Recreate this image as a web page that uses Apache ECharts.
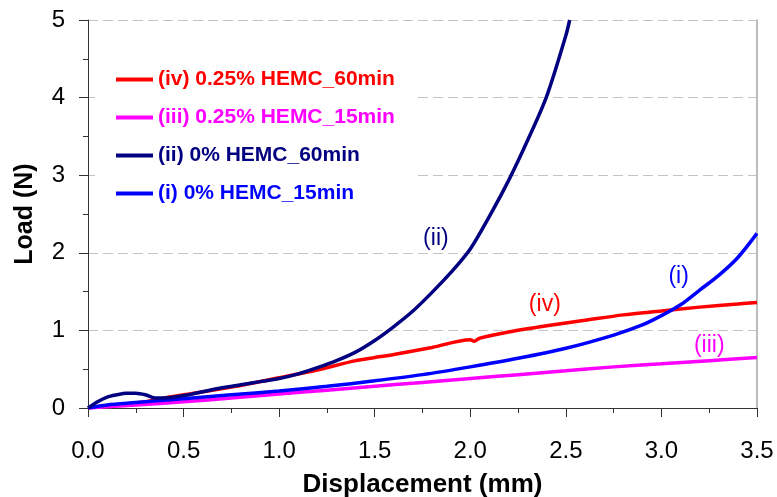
<!DOCTYPE html>
<html>
<head>
<meta charset="utf-8">
<script src="https://cdn.jsdelivr.net/npm/echarts@6/dist/echarts.min.js"></script>
<style>html,body{margin:0;padding:0;background:#fff}#c{width:777px;height:497px}</style>
</head>
<body>
<div id="c"></div>
<script>
// Series names (legend order)
const names = ['(iv) 0.25% HEMC_60min', '(iii) 0.25% HEMC_15min', '(ii) 0% HEMC_60min', '(i) 0% HEMC_15min'];
const colors = ['#ff0000', '#ff00ff', '#000080', '#0000ff'];
const labels = ['(iv)', '(iii)', '(ii)', '(i)'];
const labelPos = [[2.39, 1.33], [3.25, 0.80], [1.82, 2.18], [3.09, 1.69]];

// (iv) 0.25% HEMC_60min
const disp_iv = [0, 0.1, 0.2, 0.3, 0.4, 0.5, 0.75, 1.0, 1.2, 1.4, 1.5, 1.6, 1.8, 2.0, 2.02, 2.05, 2.2, 2.4, 2.6, 2.8, 3.0, 3.2, 3.4, 3.5];
const load_iv = [0, 0.03, 0.05, 0.08, 0.13, 0.17, 0.27, 0.39, 0.49, 0.61, 0.65, 0.69, 0.78, 0.88, 0.86, 0.90, 0.98, 1.06, 1.13, 1.20, 1.25, 1.30, 1.34, 1.36];
// (iii) 0.25% HEMC_15min
const disp_iii = [0, 0.25, 0.5, 0.75, 1.0, 1.25, 1.5, 1.75, 2.0, 2.25, 2.5, 2.75, 3.0, 3.25, 3.5];
const load_iii = [0, 0.04, 0.08, 0.13, 0.18, 0.23, 0.28, 0.33, 0.38, 0.43, 0.48, 0.53, 0.57, 0.61, 0.65];
// (ii) 0% HEMC_60min
const disp_ii = [0, 0.05, 0.1, 0.15, 0.2, 0.25, 0.3, 0.35, 0.4, 0.5, 0.6, 0.7, 0.8, 0.9, 1.0, 1.1, 1.2, 1.3, 1.4, 1.5, 1.6, 1.7, 1.8, 1.9, 2.0, 2.1, 2.2, 2.3, 2.4, 2.5, 2.52];
const load_ii = [0, 0.08, 0.14, 0.17, 0.19, 0.19, 0.17, 0.13, 0.13, 0.16, 0.21, 0.26, 0.30, 0.34, 0.38, 0.44, 0.52, 0.61, 0.72, 0.87, 1.05, 1.25, 1.49, 1.75, 2.05, 2.47, 2.93, 3.45, 4.02, 4.80, 5.0];
// (i) 0% HEMC_15min
const disp_i = [0, 0.1, 0.25, 0.5, 0.75, 1.0, 1.25, 1.5, 1.75, 2.0, 2.25, 2.5, 2.75, 2.9, 3.0, 3.1, 3.2, 3.3, 3.4, 3.5];
const load_i = [0, 0.04, 0.07, 0.12, 0.17, 0.22, 0.28, 0.35, 0.43, 0.53, 0.64, 0.77, 0.94, 1.07, 1.19, 1.33, 1.52, 1.71, 1.94, 2.25];

const xTicks = [0, 0.5, 1.0, 1.5, 2.0, 2.5, 3.0, 3.5];
const yTicks = [0, 1, 2, 3, 4, 5];

const xs = [disp_iv, disp_iii, disp_ii, disp_i];
const ys = [load_iv, load_iii, load_ii, load_i];
const drawOrder = [0, 1, 3, 2];

const FONT = '"Liberation Sans", Arial, sans-serif';

const series = drawOrder.map(k => ({
  name: names[k],
  type: 'line',
  symbol: 'none',
  smooth: 0.3,
  z: 3,
  data: xs[k].map((x, i) => [x, ys[k][i]]),
  lineStyle: { color: colors[k], width: 3.5 },
  itemStyle: { color: colors[k] },
  markPoint: {
    symbol: 'circle', symbolSize: 0,
    label: { show: true, position: 'inside', formatter: labels[k], color: colors[k], fontSize: 23, fontFamily: FONT },
    data: [{ coord: labelPos[k] }]
  }
}));

const chart = echarts.init(document.getElementById('c'), null, { renderer: 'canvas' });
chart.setOption({
  backgroundColor: '#fff',
  animation: false,
  grid: { left: 88, right: 20, top: 20, bottom: 89, containLabel: false, outerBoundsMode: 'none' },
  legend: {
    data: names.map((n, k) => ({ name: n, icon: 'rect', itemStyle: { color: colors[k] }, textStyle: { color: colors[k] } })),
    orient: 'vertical',
    left: 95, top: 57,
    padding: [12, 19, 12, 21],
    backgroundColor: '#fff',
    itemWidth: 37, itemHeight: 4, itemGap: 17,
    textStyle: { fontSize: 21, fontWeight: 'bold', fontFamily: FONT, lineHeight: 21 },
    selectedMode: false,
    z: 5
  },
  xAxis: {
    type: 'value', min: xTicks[0], max: xTicks[xTicks.length - 1], interval: 0.5,
    name: 'Displacement (mm)', nameLocation: 'middle', nameGap: 64,
    nameTextStyle: { fontSize: 26, fontWeight: 'bold', color: '#000', fontFamily: FONT },
    axisLine: { show: true, lineStyle: { color: '#333', width: 1 } },
    axisTick: { show: true, length: 9, lineStyle: { color: '#333' } },
    minorTick: { show: true, splitNumber: 2, length: 5, lineStyle: { color: '#333' } },
    axisLabel: { fontSize: 24, color: '#000', fontFamily: FONT, margin: 31, formatter: v => v.toFixed(1) },
    splitLine: { show: false }
  },
  yAxis: [{
    type: 'value', min: yTicks[0], max: yTicks[yTicks.length - 1], interval: 1,
    name: 'Load (N)', nameLocation: 'middle', nameGap: 50,
    nameTextStyle: { fontSize: 25, fontWeight: 'bold', color: '#000', fontFamily: FONT },
    axisLine: { show: true, lineStyle: { color: '#333', width: 1 } },
    axisTick: { show: true, length: 9, lineStyle: { color: '#333' } },
    minorTick: { show: true, splitNumber: 2, length: 5, lineStyle: { color: '#333' } },
    axisLabel: { fontSize: 24, color: '#000', fontFamily: FONT, margin: 23 },
    splitLine: { show: true, lineStyle: { color: '#c4c4c4', type: [10, 5], width: 1 } }
  }, {
    type: 'value', min: 0, max: 5, interval: 1, position: 'right',
    axisLine: { show: true, lineStyle: { color: '#a6a6a6', width: 1.5 } },
    axisTick: { show: false }, axisLabel: { show: false }, splitLine: { show: false }
  }],
  series: series
});
</script>
</body>
</html>
